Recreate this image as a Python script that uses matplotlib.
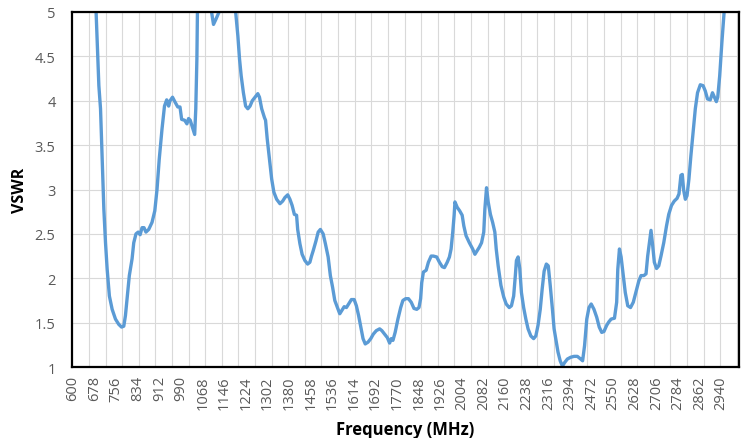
import numpy as np
import matplotlib
matplotlib.use("Agg")
import matplotlib.pyplot as plt

plt.rcParams['font.family'] = ['Open Sans', 'DejaVu Sans']

# values (MHz, VSWR); >5 parts get clipped by the axes
freq = [600, 640, 675, 683, 693, 699, 705, 711, 717, 723, 731, 741, 753, 765, 775,
        783, 789, 795, 803, 813, 819, 827, 835, 842, 849, 856, 863, 873, 885, 895,
        903, 911, 921, 930, 938, 945, 950, 959, 969, 978, 986, 992, 1003, 1011, 1017,
        1023, 1031, 1039, 1043, 1047, 1049, 1060, 1080, 1094, 1100, 1107, 1116, 1127,
        1140, 1165, 1181, 1187, 1195, 1201, 1207, 1215, 1223, 1231, 1239, 1247, 1257,
        1267, 1273, 1281, 1291, 1295, 1301, 1309, 1317, 1325, 1335, 1347, 1357, 1365,
        1375, 1383, 1391, 1399, 1407, 1411, 1419, 1427, 1437, 1447, 1455, 1461, 1467,
        1477, 1485, 1493, 1503, 1511, 1521, 1529, 1537, 1545, 1557, 1563, 1569, 1579,
        1587, 1595, 1605, 1615, 1623, 1631, 1639, 1647, 1655, 1665, 1675, 1684, 1695,
        1707, 1715, 1725, 1735, 1743, 1749, 1755, 1763, 1773, 1783, 1791, 1801, 1811,
        1821, 1831, 1841, 1849, 1855, 1859, 1865, 1875, 1883, 1893, 1901, 1913, 1923,
        1933, 1941, 1951, 1959, 1965, 1971, 1976, 1979, 1987, 1996, 2005, 2011, 2019,
        2031, 2043, 2051, 2059, 2067, 2075, 2083, 2087, 2093, 2099, 2107, 2115, 2123,
        2128, 2135, 2145, 2155, 2164, 2175, 2183, 2191, 2197, 2201, 2207, 2213, 2219,
        2227, 2235, 2243, 2253, 2263, 2271, 2279, 2287, 2294, 2301, 2309, 2316, 2323,
        2331, 2337, 2345, 2351, 2359, 2367, 2375, 2385, 2397, 2409, 2421, 2433, 2440,
        2447, 2455, 2463, 2471, 2481, 2491, 2500, 2509, 2517, 2527, 2535, 2543, 2555,
        2563, 2567, 2573, 2579, 2587, 2594, 2603, 2613, 2623, 2632, 2643, 2651, 2661,
        2669, 2675, 2683, 2687, 2693, 2699, 2707, 2715, 2723, 2733, 2743, 2751, 2761,
        2771, 2781, 2788, 2795, 2800, 2805, 2811, 2817, 2824, 2831, 2839, 2847, 2855,
        2865, 2875, 2883, 2891, 2901, 2909, 2916, 2923, 2928, 2935, 2943, 2951, 2970,
        3000]
vswr = [8.0, 6.8, 5.6, 5.0, 4.17, 3.91, 3.34, 2.78, 2.40, 2.10, 1.80, 1.65, 1.54, 1.48, 1.45,
        1.46, 1.58, 1.77, 2.03, 2.22, 2.40, 2.50, 2.52, 2.49, 2.57, 2.57, 2.52, 2.55, 2.63, 2.76,
        3.00, 3.34, 3.68, 3.94, 4.01, 3.94, 4.00, 4.04, 3.98, 3.93, 3.93, 3.79, 3.78, 3.74, 3.80,
        3.78, 3.70, 3.62, 3.91, 4.47, 5.0, 5.8, 6.2, 5.4, 5.0, 4.86, 4.92, 5.0,
        5.5, 5.8, 5.3, 5.0, 4.73, 4.47, 4.28, 4.09, 3.94, 3.91, 3.94, 4.00, 4.04,
        4.08, 4.04, 3.91, 3.81, 3.78, 3.57, 3.34, 3.12, 2.97, 2.89, 2.84, 2.87, 2.91,
        2.94, 2.89, 2.82, 2.72, 2.71, 2.55, 2.39, 2.27, 2.20, 2.16, 2.18, 2.25, 2.31,
        2.42, 2.52, 2.55, 2.50, 2.39, 2.24, 2.03, 1.90, 1.75, 1.65, 1.60, 1.63, 1.68,
        1.67, 1.71, 1.76, 1.76, 1.69, 1.58, 1.45, 1.32, 1.26, 1.28, 1.32, 1.37, 1.41,
        1.43, 1.41, 1.37, 1.33, 1.27, 1.32, 1.30, 1.39, 1.54, 1.67, 1.75, 1.77, 1.77,
        1.73, 1.66, 1.65, 1.67, 1.77, 1.95, 2.07, 2.09, 2.18, 2.25, 2.25, 2.24, 2.18,
        2.13, 2.12, 2.18, 2.24, 2.33, 2.52, 2.71, 2.86, 2.80, 2.76, 2.71, 2.59, 2.48,
        2.40, 2.33, 2.27, 2.31, 2.35, 2.40, 2.52, 2.78, 3.02, 2.86, 2.72, 2.63, 2.52,
        2.33, 2.14, 1.92, 1.79, 1.71, 1.67, 1.69, 1.80, 2.03, 2.20, 2.24, 2.11, 1.84,
        1.67, 1.54, 1.43, 1.35, 1.32, 1.35, 1.47, 1.65, 1.88, 2.08, 2.16, 2.14, 1.92,
        1.65, 1.43, 1.28, 1.17, 1.07, 1.01, 1.05, 1.09, 1.11, 1.12, 1.12, 1.09, 1.07,
        1.24, 1.54, 1.67, 1.71, 1.65, 1.56, 1.45, 1.39, 1.40, 1.47, 1.51, 1.54, 1.55,
        1.73, 2.10, 2.33, 2.24, 2.03, 1.84, 1.69, 1.67, 1.73, 1.84, 1.97, 2.03, 2.03,
        2.05, 2.25, 2.44, 2.54, 2.37, 2.18, 2.11, 2.14, 2.25, 2.40, 2.59, 2.72, 2.82,
        2.87, 2.90, 2.95, 3.16, 3.17, 2.99, 2.89, 2.93, 3.12, 3.38, 3.64, 3.91, 4.09,
        4.18, 4.17, 4.11, 4.02, 4.01, 4.09, 4.04, 3.99, 4.04, 4.28, 4.66, 5.0, 5.8,
        6.5]

xtick_vals = list(range(600, 2941, 78))
ytick_vals = [1, 1.5, 2, 2.5, 3, 3.5, 4, 4.5, 5]

fig = plt.figure(figsize=(7.49, 4.39), dpi=100)
ax = fig.add_axes([0.0965, 0.1617, 0.8895, 0.8087])

ax.plot(freq, vswr, color="#5B9BD5", lw=2.4, solid_joinstyle="round")

ax.set_xlim(597, 3003)
ax.set_ylim(1, 5)
ax.set_xticks(xtick_vals)
ax.set_xticklabels([str(v) for v in xtick_vals], rotation=90)
ax.set_xticks(np.arange(657, 3000, 60), minor=True)
ax.set_yticks(ytick_vals)
ax.set_yticklabels(["1", "1.5", "2", "2.5", "3", "3.5", "4", "4.5", "5"])

ax.grid(True, which="minor", axis="x", color="#D9D9D9", lw=0.8)
ax.grid(True, which="major", axis="y", color="#D9D9D9", lw=0.8)
ax.set_axisbelow(True)
ax.tick_params(axis="both", which="both", length=0, labelsize=10.5, labelcolor="#595959")
ax.tick_params(axis="y", pad=12)
ax.tick_params(axis="x", pad=6)

for s in ax.spines.values():
    s.set_linewidth(1.6)
    s.set_color("black")

ax.set_xlabel("Frequency (MHz)", fontsize=12, fontweight="bold")
ax.set_ylabel("VSWR", fontsize=11.5, fontweight="bold")
ax.xaxis.set_label_coords(0.5, -0.148)
ax.yaxis.set_label_coords(-0.066, 0.5)

fig.savefig("out.png", dpi=100)
